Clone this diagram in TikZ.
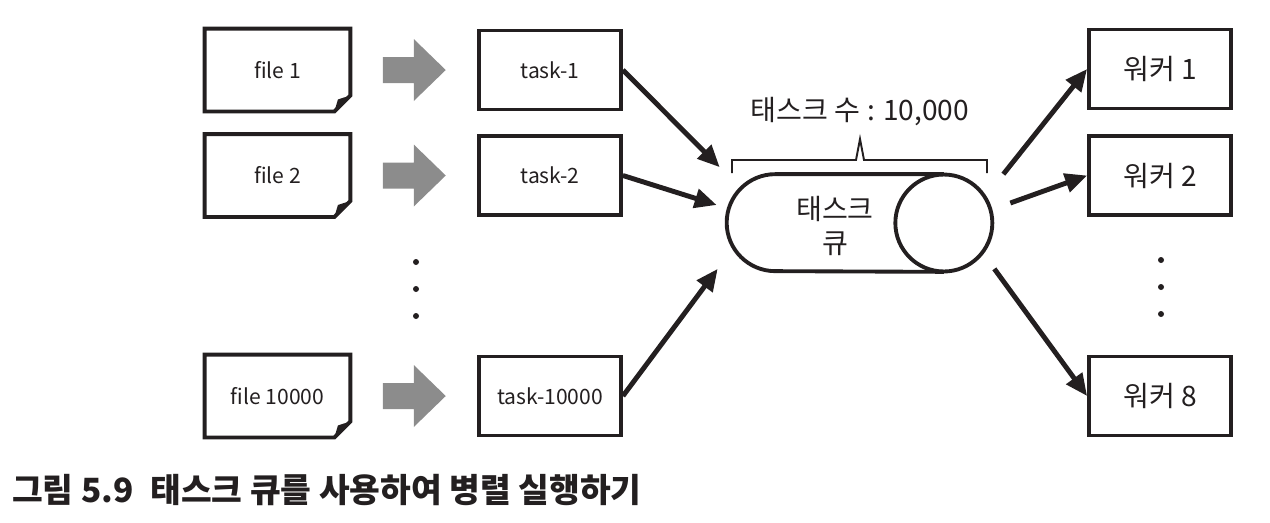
\documentclass[tikz,border=0pt]{standalone}
\usepackage{fontspec}
\setmainfont{Noto Sans CJK KR}
\usetikzlibrary{arrows.meta}
\definecolor{lineColor}{RGB}{35,31,32}
\definecolor{arrowGray}{RGB}{140,140,140}
\tikzstyle{diagram} = [x=0.02cm, y=-0.02cm]
\tikzstyle{boxLine} = [draw=lineColor, line width=2.2pt]
\tikzstyle{boxStyle} = [boxLine, minimum width=2.84cm, minimum height=1.58cm, inner sep=0pt, text=lineColor, font=\fontsize{12}{14}\selectfont]
\tikzstyle{fileStyle} = [boxStyle, draw=none]
\tikzstyle{workerStyle} = [boxStyle, font=\fontsize{16}{19}\selectfont]
\tikzstyle{flowArrow} = [draw=lineColor, line width=2.8pt, -{Triangle[length=0.44cm, width=0.38cm]}]
\tikzstyle{braceLine} = [draw=lineColor, line width=1.1pt]
\tikzstyle{labelText} = [text=lineColor, align=center, font=\fontsize{16}{19}\selectfont]
\newcommand{\fold}{0.32cm}
\newcommand{\qrad}{0.97cm}
\newcommand{\fileOutline}[1]{
  \draw [boxLine] (#1.north west) -- (#1.north east) -- ([yshift=\fold]#1.south east)
    -- ([xshift=-\fold]#1.south east) -- (#1.south west) -- cycle;
  \fill [lineColor] ([xshift=-\fold]#1.south east) -- ([xshift=-0.25cm, yshift=0.24cm]#1.south east)
    -- ([yshift=\fold]#1.south east) -- cycle;
}
\newcommand{\grayArrow}[1]{
  \fill [arrowGray, shift={(#1)}] (-31,-13) -- (0,-13) -- (0,-31) -- (32,0) -- (0,31) -- (0,13) -- (-31,13) -- cycle;
}
\newcommand{\threeDots}[2]{
  \foreach \dotY in {0,27,54} {
    \fill [lineColor] (#1, #2 + \dotY) circle (3);
  }
}

\begin{document}
\begin{tikzpicture}[diagram]
    \useasboundingbox (0,0) rectangle (1270,522);
    % files and tasks
    \node [fileStyle] (file1) at (277.5,70) {file 1};
    \node [fileStyle] (file2) at (277.5,175.5) {file 2};
    \node [fileStyle] (fileN) at (277.5,396) {file 10000};
    \node [boxStyle] (task1) at (550,70) {task-1};
    \node [boxStyle] (task2) at (550,175.5) {task-2};
    \node [boxStyle] (taskN) at (550,396) {task-10000};
    \foreach \f in {file1,file2,fileN} {
      \fileOutline{\f}
    }
    \path (file1.east) -- (task1.west) coordinate [midway] (g1);
    \path (file2.east) -- (task2.west) coordinate [midway] (g2);
    \path (fileN.east) -- (taskN.west) coordinate [midway] (gN);
    \grayArrow{g1}
    \grayArrow{g2}
    \grayArrow{gN}
    \threeDots{416}{262}
    % queue
    \node [minimum width=5.3cm, minimum height=1.94cm, inner sep=0pt] (queue) at (859.5,223) {};
    \draw [boxLine] ([xshift=-\qrad]queue.north east) -- ([xshift=\qrad]queue.north west)
      arc [start angle=90, end angle=270, radius=\qrad] -- ([xshift=-\qrad]queue.south east);
    \draw [boxLine] ([xshift=-\qrad]queue.east) circle [radius=\qrad];
    \node [labelText] (queueText) at (835,226) {태스크\\큐};
    \draw [braceLine] (732,173) -- (732,160) -- (856,160) -- (860,139) -- (864,160) -- (987,160) -- (987,173);
    \node [labelText] (queueCount) at (860,112) {태스크 수 : 10,000};
    % workers
    \node [workerStyle] (worker1) at (1160,69) {워커 1};
    \node [workerStyle] (worker2) at (1160,175.5) {워커 2};
    \node [workerStyle] (worker8) at (1160,396) {워커 8};
    \threeDots{1161}{260}
    \draw [flowArrow] (task1.east) -- ([xshift=-0.14cm, yshift=0.14cm]queue.north west);
    \draw [flowArrow] (task2.east) -- ([xshift=-0.2cm, yshift=0.36cm]queue.west);
    \draw [flowArrow] (taskN.east) -- ([xshift=-0.18cm, yshift=0.06cm]queue.south west);
    \draw [flowArrow] ([xshift=0.22cm]queue.north east) -- (worker1.west);
    \draw [flowArrow] ([xshift=0.36cm, yshift=0.4cm]queue.east) -- (worker2.west);
    \draw [flowArrow] ([xshift=0.04cm, yshift=0.06cm]queue.south east) -- (worker8.west);
    % caption
    \node [anchor=west, text=lineColor, font=\fontsize{19}{23}\selectfont\bfseries] (caption) at (6,490)
      {그림 5.9\enspace 태스크 큐를 사용하여 병렬 실행하기};
\end{tikzpicture}
\end{document}
